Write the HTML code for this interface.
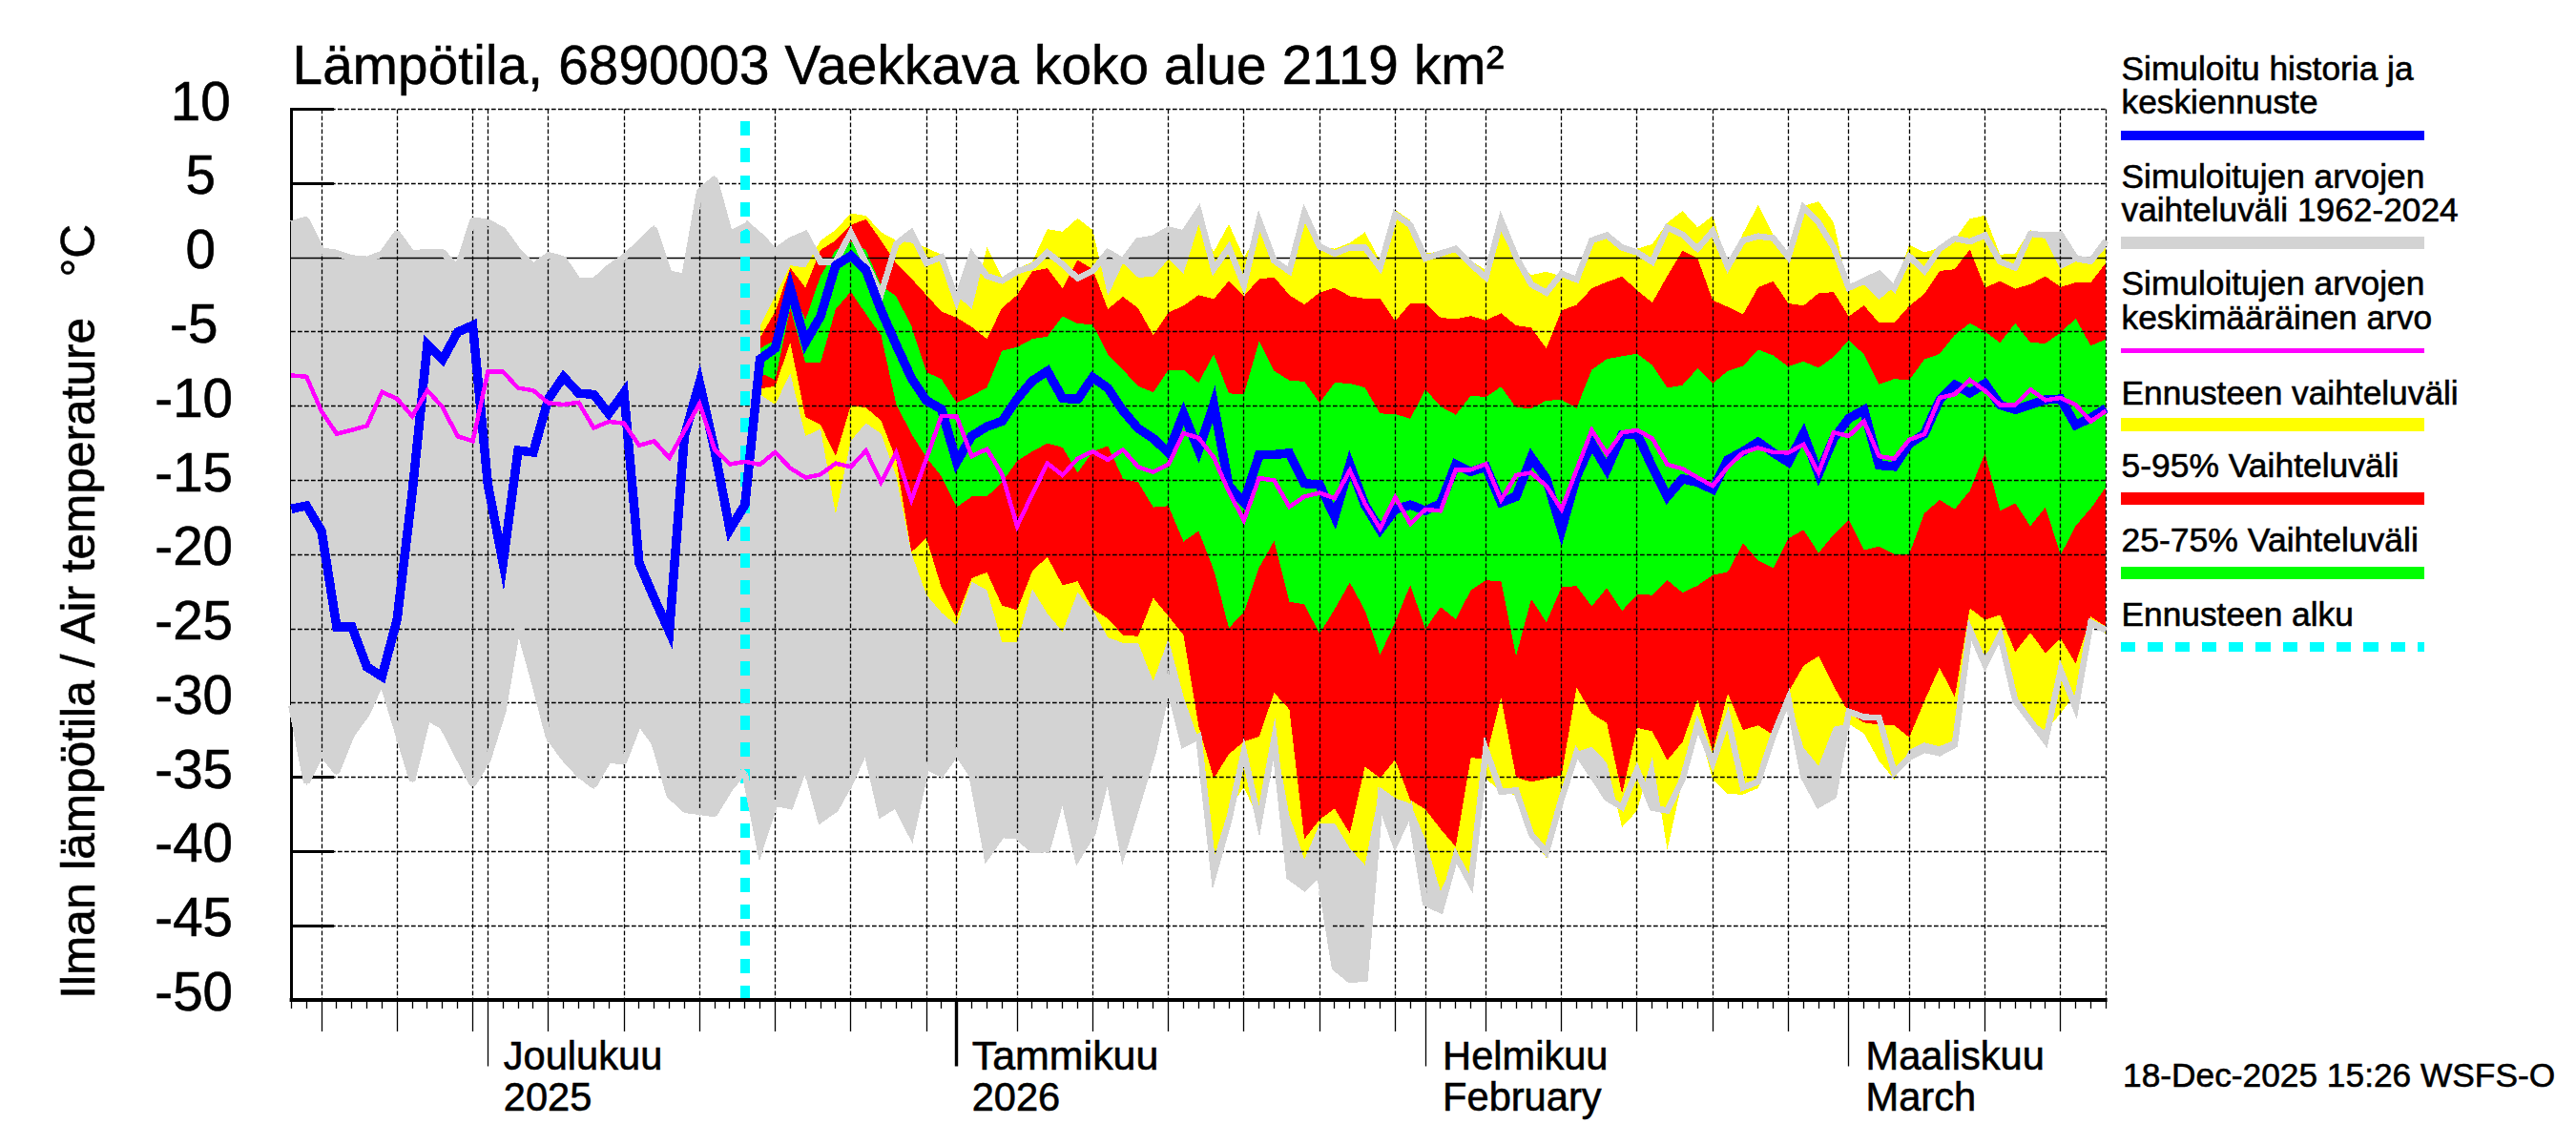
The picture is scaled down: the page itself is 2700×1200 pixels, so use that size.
<!DOCTYPE html>
<html lang="fi"><head><meta charset="utf-8"><title>Lämpötila</title>
<style>html,body{margin:0;padding:0;background:#fff;}svg{display:block;}text{font-family:"Liberation Sans",sans-serif;fill:#000;stroke:#000;stroke-width:0.6px;}</style></head><body>
<svg width="2700" height="1200" viewBox="0 0 2700 1200">
<rect width="2700" height="1200" fill="#fff"/>
<g shape-rendering="crispEdges" stroke="#000" fill="none">
<line x1="305.5" y1="112.8" x2="305.5" y2="1049.9" stroke-width="3.8"/>
<line x1="304" y1="114.6" x2="350" y2="114.6" stroke-width="3.4"/>
<line x1="304" y1="192.4" x2="350" y2="192.4" stroke-width="3.4"/>
<line x1="304" y1="348.0" x2="350" y2="348.0" stroke-width="3.4"/>
<line x1="304" y1="425.8" x2="350" y2="425.8" stroke-width="3.4"/>
<line x1="304" y1="503.5" x2="350" y2="503.5" stroke-width="3.4"/>
<line x1="304" y1="581.3" x2="350" y2="581.3" stroke-width="3.4"/>
<line x1="304" y1="659.1" x2="350" y2="659.1" stroke-width="3.4"/>
<line x1="304" y1="736.9" x2="350" y2="736.9" stroke-width="3.4"/>
<line x1="304" y1="814.7" x2="350" y2="814.7" stroke-width="3.4"/>
<line x1="304" y1="892.4" x2="350" y2="892.4" stroke-width="3.4"/>
<line x1="304" y1="970.2" x2="350" y2="970.2" stroke-width="3.4"/>
<line x1="304" y1="1048.0" x2="350" y2="1048.0" stroke-width="3.4"/>
</g>
<g shape-rendering="crispEdges">
<polygon fill="#d3d3d3" points="305.3,231.0 321.2,226.6 337.0,259.4 352.9,261.6 368.7,267.2 384.6,268.6 400.4,262.4 416.2,240.6 432.1,262.4 448.0,260.7 463.8,260.7 479.6,276.9 495.5,227.5 511.4,229.3 527.2,237.6 543.0,259.4 558.9,275.5 574.8,263.8 590.6,268.1 606.5,291.3 622.3,291.3 638.1,276.9 654.0,265.9 669.9,252.0 685.7,236.2 701.5,283.4 717.4,286.5 733.2,196.9 749.1,183.8 765.0,241.9 780.8,233.4 796.6,247.1 812.5,263.2 828.3,252.0 844.2,245.1 860.0,274.4 875.9,274.4 891.8,243.4 907.6,275.7 923.5,308.0 939.3,255.8 955.2,243.4 971.0,275.7 986.8,269.4 1002.7,315.4 1018.5,267.0 1034.4,289.3 1050.2,294.3 1066.1,284.3 1082.0,279.4 1097.8,264.6 1113.7,276.9 1129.5,291.7 1145.3,283.8 1161.2,264.1 1177.0,273.4 1192.9,252.4 1208.8,249.8 1224.6,240.5 1240.5,244.5 1256.3,221.0 1272.2,282.0 1288.0,259.4 1303.8,299.0 1319.7,231.0 1335.5,273.2 1351.4,284.3 1367.2,223.0 1383.1,258.3 1398.9,265.7 1414.8,259.5 1430.6,259.5 1446.5,280.6 1462.3,224.7 1478.2,235.9 1494.0,270.7 1509.9,265.7 1525.8,260.7 1541.6,276.9 1557.4,290.6 1573.3,230.9 1589.1,269.4 1605.0,298.0 1620.8,306.7 1636.7,286.8 1652.5,293.0 1668.4,252.0 1684.2,246.6 1700.1,259.5 1715.9,264.5 1731.8,274.4 1747.6,238.4 1763.5,245.8 1779.3,260.7 1795.2,242.1 1811.0,279.4 1826.9,252.0 1842.8,247.6 1858.6,249.6 1874.4,269.4 1890.3,217.3 1906.1,233.4 1922.0,259.5 1937.8,301.7 1953.7,294.5 1969.5,286.7 1985.4,302.3 2001.2,268.8 2017.1,284.2 2032.9,261.0 2048.8,249.9 2064.7,253.2 2080.5,246.5 2096.3,274.3 2112.2,280.5 2128.1,245.0 2143.9,246.5 2159.8,245.7 2175.6,270.5 2191.4,273.8 2207.3,252.4 2207.3,660.5 2191.4,652.4 2175.6,742.0 2159.8,702.0 2143.9,776.5 2128.1,755.5 2112.2,734.0 2096.3,666.0 2080.5,696.5 2064.7,660.0 2048.8,780.7 2032.9,789.3 2017.1,786.0 2001.2,793.5 1985.4,809.5 1969.5,752.3 1953.7,751.5 1937.8,745.8 1922.0,834.2 1906.1,843.5 1890.3,814.0 1874.4,732.4 1858.6,771.0 1842.8,819.2 1826.9,825.4 1811.0,752.8 1795.2,800.0 1779.3,759.0 1763.5,816.7 1747.6,849.6 1731.8,846.5 1715.9,806.8 1700.1,846.0 1684.2,836.5 1668.4,812.0 1652.5,788.7 1636.7,837.1 1620.8,893.0 1605.0,874.4 1589.1,828.4 1573.3,829.7 1557.4,785.5 1541.6,926.0 1525.8,896.8 1509.9,953.9 1494.0,946.5 1478.2,850.0 1462.3,884.3 1446.5,840.0 1430.6,1025.5 1414.8,1027.0 1398.9,1014.0 1383.1,915.7 1367.2,930.5 1351.4,919.0 1335.5,774.0 1319.7,861.0 1303.8,788.0 1288.0,860.0 1272.2,916.0 1256.3,772.0 1240.5,780.0 1224.6,716.4 1208.8,787.6 1192.9,840.8 1177.0,893.0 1161.2,809.1 1145.3,873.0 1129.5,899.1 1113.7,831.6 1097.8,889.7 1082.0,890.9 1066.1,876.2 1050.2,875.0 1034.4,897.3 1018.5,811.8 1002.7,788.5 986.8,811.1 971.0,803.4 955.2,874.6 939.3,843.5 923.5,853.2 907.6,784.1 891.8,819.1 875.9,848.0 860.0,859.2 844.2,801.2 828.3,845.0 812.5,841.6 796.6,890.0 780.8,811.0 765.0,830.1 749.1,856.3 733.2,854.1 717.4,852.0 701.5,836.7 685.7,782.1 669.9,760.3 654.0,801.7 638.1,799.6 622.3,827.1 606.5,814.8 590.6,797.4 574.8,775.5 558.9,714.4 543.0,657.6 527.2,749.3 511.4,799.6 495.5,825.8 479.6,795.2 463.8,764.6 448.0,755.9 432.1,821.4 416.2,769.0 400.4,716.6 384.6,751.5 368.7,773.4 352.9,812.7 337.0,793.0 321.2,823.6 305.3,742.8"/>
<polygon fill="#ffff00" points="796.6,341.5 812.5,310.4 828.3,278.1 844.2,280.6 860.0,252.0 875.9,240.9 891.8,223.5 907.6,226.0 923.5,243.4 939.3,252.0 955.2,254.5 971.0,259.5 986.8,267.0 1002.7,309.2 1018.5,324.1 1034.4,259.0 1050.2,290.6 1066.1,281.9 1082.0,274.4 1097.8,240.2 1113.7,242.8 1129.5,228.8 1145.3,241.0 1161.2,310.0 1177.0,276.0 1192.9,290.8 1208.8,290.0 1224.6,271.6 1240.5,286.5 1256.3,235.8 1272.2,263.8 1288.0,234.9 1303.8,269.9 1319.7,241.9 1335.5,271.9 1351.4,280.6 1367.2,233.4 1383.1,258.3 1398.9,260.7 1414.8,254.5 1430.6,243.4 1446.5,273.2 1462.3,219.8 1478.2,230.9 1494.0,265.7 1509.9,263.2 1525.8,257.0 1541.6,273.2 1557.4,283.1 1573.3,242.1 1589.1,274.4 1605.0,288.1 1620.8,284.8 1636.7,289.3 1652.5,293.0 1668.4,254.5 1684.2,249.6 1700.1,260.7 1715.9,260.7 1731.8,255.8 1747.6,233.4 1763.5,221.0 1779.3,238.4 1795.2,226.0 1811.0,279.4 1826.9,244.6 1842.8,214.8 1858.6,245.8 1874.4,267.0 1890.3,216.0 1906.1,211.1 1922.0,233.4 1937.8,304.2 1953.7,298.5 1969.5,314.0 1985.4,300.4 2001.2,256.4 2017.1,264.4 2032.9,260.0 2048.8,250.7 2064.7,229.1 2080.5,225.9 2096.3,266.8 2112.2,265.6 2128.1,240.8 2143.9,250.7 2159.8,282.2 2175.6,274.3 2191.4,277.2 2207.3,259.4 2207.3,664.2 2191.4,655.0 2175.6,726.7 2159.8,747.7 2143.9,766.0 2128.1,754.6 2112.2,737.5 2096.3,668.1 2080.5,686.5 2064.7,662.9 2048.8,775.5 2032.9,782.1 2017.1,778.2 2001.2,786.0 1985.4,816.8 1969.5,797.5 1953.7,768.8 1937.8,758.6 1922.0,761.8 1906.1,802.7 1890.3,783.5 1874.4,730.0 1858.6,776.0 1842.8,826.0 1826.9,832.7 1811.0,832.2 1795.2,817.3 1779.3,759.0 1763.5,817.3 1747.6,890.6 1731.8,793.0 1715.9,849.6 1700.1,867.0 1684.2,799.4 1668.4,782.5 1652.5,788.0 1636.7,838.0 1620.8,899.3 1605.0,876.4 1589.1,833.4 1573.3,830.0 1557.4,816.0 1541.6,932.8 1525.8,899.3 1509.9,934.0 1494.0,880.0 1478.2,842.1 1462.3,836.5 1446.5,824.8 1430.6,906.7 1414.8,889.0 1398.9,862.8 1383.1,863.5 1367.2,900.7 1351.4,854.4 1335.5,768.0 1319.7,860.0 1303.8,825.0 1288.0,847.6 1272.2,899.5 1256.3,775.5 1240.5,730.0 1224.6,669.3 1208.8,714.0 1192.9,673.8 1177.0,673.8 1161.2,668.1 1145.3,639.5 1129.5,620.9 1113.7,661.9 1097.8,643.2 1082.0,617.1 1066.1,673.0 1050.2,673.0 1034.4,618.4 1018.5,609.7 1002.7,655.7 986.8,642.0 971.0,623.4 955.2,579.4 939.3,499.3 923.5,454.5 907.6,443.4 891.8,462.0 875.9,539.0 860.0,449.6 844.2,457.0 828.3,391.2 812.5,424.1 796.6,413.5"/>
<polygon fill="#ff0000" points="796.6,353.9 812.5,326.6 828.3,280.6 844.2,301.7 860.0,262.0 875.9,252.0 891.8,235.9 907.6,229.7 923.5,252.0 939.3,275.7 955.2,291.8 971.0,309.2 986.8,326.6 1002.7,332.8 1018.5,342.7 1034.4,355.2 1050.2,322.9 1066.1,309.2 1082.0,284.3 1097.8,281.2 1113.7,302.2 1129.5,272.5 1145.3,282.1 1161.2,324.0 1177.0,310.9 1192.9,323.1 1208.8,351.1 1224.6,327.5 1240.5,320.5 1256.3,309.2 1272.2,313.5 1288.0,294.3 1303.8,310.0 1319.7,292.6 1335.5,290.6 1351.4,309.2 1367.2,319.1 1383.1,306.7 1398.9,301.7 1414.8,310.4 1430.6,312.9 1446.5,312.9 1462.3,336.5 1478.2,317.9 1494.0,317.9 1509.9,332.8 1525.8,334.5 1541.6,331.1 1557.4,335.8 1573.3,328.3 1589.1,341.0 1605.0,343.5 1620.8,365.1 1636.7,325.3 1652.5,319.6 1668.4,302.2 1684.2,295.5 1700.1,289.8 1715.9,304.2 1731.8,317.1 1747.6,289.3 1763.5,262.5 1779.3,270.7 1795.2,314.7 1811.0,321.6 1826.9,329.6 1842.8,301.0 1858.6,294.8 1874.4,317.9 1890.3,320.4 1906.1,307.2 1922.0,306.2 1937.8,331.6 1953.7,320.2 1969.5,338.3 1985.4,338.3 2001.2,320.6 2017.1,308.0 2032.9,284.0 2048.8,282.2 2064.7,261.4 2080.5,301.5 2096.3,294.6 2112.2,302.8 2128.1,297.8 2143.9,289.6 2159.8,300.8 2175.6,296.1 2191.4,296.1 2207.3,275.5 2207.3,656.6 2191.4,646.4 2175.6,695.4 2159.8,669.3 2143.9,684.6 2128.1,663.0 2112.2,683.3 2096.3,644.5 2080.5,649.6 2064.7,637.5 2048.8,730.6 2032.9,699.5 2017.1,734.5 2001.2,772.8 1985.4,760.2 1969.5,759.5 1953.7,757.3 1937.8,747.3 1922.0,719.0 1906.1,687.7 1890.3,697.7 1874.4,725.5 1858.6,770.3 1842.8,760.2 1826.9,765.2 1811.0,726.7 1795.2,788.1 1779.3,732.9 1763.5,777.6 1747.6,796.6 1731.8,766.5 1715.9,762.7 1700.1,832.2 1684.2,757.8 1668.4,747.8 1652.5,720.5 1636.7,812.3 1620.8,816.0 1605.0,819.4 1589.1,814.8 1573.3,731.2 1557.4,795.0 1541.6,794.3 1525.8,887.5 1509.9,868.8 1494.0,848.3 1478.2,838.4 1462.3,796.3 1446.5,815.4 1430.6,803.4 1414.8,873.6 1398.9,847.3 1383.1,859.0 1367.2,879.4 1351.4,743.5 1335.5,726.0 1319.7,772.0 1303.8,777.3 1288.0,790.3 1272.2,815.9 1256.3,761.2 1240.5,665.6 1224.6,645.7 1208.8,626.6 1192.9,666.8 1177.0,665.6 1161.2,648.2 1145.3,638.3 1129.5,609.2 1113.7,613.4 1097.8,583.6 1082.0,598.5 1066.1,639.5 1050.2,634.5 1034.4,599.8 1018.5,606.0 1002.7,647.0 986.8,615.9 971.0,564.0 955.2,578.6 939.3,481.9 923.5,440.9 907.6,427.2 891.8,424.7 875.9,478.1 860.0,445.1 844.2,437.1 828.3,358.9 812.5,404.8 796.6,407.3"/>
<polygon fill="#00ff00" points="796.6,365.1 812.5,356.4 828.3,298.0 844.2,335.3 860.0,289.3 875.9,262.0 891.8,253.3 907.6,262.0 923.5,299.3 939.3,310.4 955.2,341.5 971.0,389.9 986.8,397.4 1002.7,422.2 1018.5,414.8 1034.4,406.1 1050.2,367.6 1066.1,363.9 1082.0,355.2 1097.8,352.7 1113.7,331.6 1129.5,339.0 1145.3,340.2 1161.2,371.3 1177.0,387.5 1192.9,404.8 1208.8,411.1 1224.6,387.5 1240.5,387.5 1256.3,401.1 1272.2,371.3 1288.0,412.3 1303.8,413.5 1319.7,357.6 1335.5,388.7 1351.4,398.6 1367.2,399.9 1383.1,422.2 1398.9,401.1 1414.8,401.9 1430.6,406.1 1446.5,433.4 1462.3,433.9 1478.2,438.9 1494.0,408.1 1509.9,426.0 1525.8,434.7 1541.6,414.8 1557.4,416.0 1573.3,405.3 1589.1,427.2 1605.0,427.9 1620.8,419.8 1636.7,419.0 1652.5,427.7 1668.4,387.5 1684.2,376.3 1700.1,373.3 1715.9,370.8 1731.8,382.5 1747.6,406.6 1763.5,403.6 1779.3,386.2 1795.2,401.9 1811.0,388.7 1826.9,383.7 1842.8,366.3 1858.6,372.5 1874.4,384.2 1890.3,378.8 1906.1,385.5 1922.0,373.8 1937.8,356.4 1953.7,371.4 1969.5,402.7 1985.4,397.2 2001.2,398.2 2017.1,376.6 2032.9,371.0 2048.8,351.1 2064.7,338.7 2080.5,347.4 2096.3,359.1 2112.2,338.7 2128.1,359.1 2143.9,359.8 2159.8,348.7 2175.6,333.8 2191.4,362.3 2207.3,355.6 2207.3,510.5 2191.4,532.9 2175.6,551.0 2159.8,581.7 2143.9,531.6 2128.1,551.5 2112.2,527.2 2096.3,535.3 2080.5,475.1 2064.7,514.3 2048.8,533.6 2032.9,523.9 2017.1,537.8 2001.2,580.7 1985.4,580.7 1969.5,572.5 1953.7,576.6 1937.8,544.5 1922.0,560.1 1906.1,579.5 1890.3,555.2 1874.4,564.3 1858.6,595.4 1842.8,587.5 1826.9,569.3 1811.0,599.4 1795.2,602.7 1779.3,613.7 1763.5,621.1 1747.6,608.0 1731.8,623.6 1715.9,623.1 1700.1,640.2 1684.2,616.1 1668.4,635.5 1652.5,614.2 1636.7,615.4 1620.8,652.2 1605.0,627.8 1589.1,687.5 1573.3,609.4 1557.4,608.2 1541.6,618.6 1525.8,649.2 1509.9,636.0 1494.0,659.6 1478.2,612.9 1462.3,652.2 1446.5,686.5 1430.6,639.8 1414.8,610.4 1398.9,638.5 1383.1,664.3 1367.2,633.3 1351.4,630.8 1335.5,567.0 1319.7,594.8 1303.8,642.0 1288.0,658.1 1272.2,597.3 1256.3,556.4 1240.5,567.6 1224.6,530.3 1208.8,531.6 1192.9,505.5 1177.0,501.7 1161.2,467.5 1145.3,473.2 1129.5,495.5 1113.7,468.9 1097.8,464.5 1082.0,473.2 1066.1,483.1 1050.2,505.5 1034.4,520.4 1018.5,520.4 1002.7,531.6 986.8,499.3 971.0,479.4 955.2,454.5 939.3,423.5 923.5,351.4 907.6,329.1 891.8,305.5 875.9,324.1 860.0,380.0 844.2,380.0 828.3,323.0 812.5,398.1 796.6,390.7"/>
<g stroke="#000" stroke-width="1.3" stroke-dasharray="4.7 2.3" fill="none" shape-rendering="geometricPrecision">
<line x1="305" y1="114.5" x2="2207.6" y2="114.5"/>
<line x1="305" y1="192.5" x2="2207.6" y2="192.5"/>
<line x1="305" y1="347.5" x2="2207.6" y2="347.5"/>
<line x1="305" y1="425.5" x2="2207.6" y2="425.5"/>
<line x1="305" y1="503.5" x2="2207.6" y2="503.5"/>
<line x1="305" y1="581.5" x2="2207.6" y2="581.5"/>
<line x1="305" y1="659.5" x2="2207.6" y2="659.5"/>
<line x1="305" y1="736.5" x2="2207.6" y2="736.5"/>
<line x1="305" y1="814.5" x2="2207.6" y2="814.5"/>
<line x1="305" y1="892.5" x2="2207.6" y2="892.5"/>
<line x1="305" y1="970.5" x2="2207.6" y2="970.5"/>
<line x1="337.5" y1="114.6" x2="337.5" y2="1048.0"/>
<line x1="416.5" y1="114.6" x2="416.5" y2="1048.0"/>
<line x1="495.5" y1="114.6" x2="495.5" y2="1048.0"/>
<line x1="511.5" y1="114.6" x2="511.5" y2="1048.0"/>
<line x1="574.5" y1="114.6" x2="574.5" y2="1048.0"/>
<line x1="654.5" y1="114.6" x2="654.5" y2="1048.0"/>
<line x1="733.5" y1="114.6" x2="733.5" y2="1048.0"/>
<line x1="812.5" y1="114.6" x2="812.5" y2="1048.0"/>
<line x1="891.5" y1="114.6" x2="891.5" y2="1048.0"/>
<line x1="971.5" y1="114.6" x2="971.5" y2="1048.0"/>
<line x1="1002.5" y1="114.6" x2="1002.5" y2="1048.0"/>
<line x1="1066.5" y1="114.6" x2="1066.5" y2="1048.0"/>
<line x1="1145.5" y1="114.6" x2="1145.5" y2="1048.0"/>
<line x1="1224.5" y1="114.6" x2="1224.5" y2="1048.0"/>
<line x1="1303.5" y1="114.6" x2="1303.5" y2="1048.0"/>
<line x1="1383.5" y1="114.6" x2="1383.5" y2="1048.0"/>
<line x1="1462.5" y1="114.6" x2="1462.5" y2="1048.0"/>
<line x1="1494.5" y1="114.6" x2="1494.5" y2="1048.0"/>
<line x1="1557.5" y1="114.6" x2="1557.5" y2="1048.0"/>
<line x1="1636.5" y1="114.6" x2="1636.5" y2="1048.0"/>
<line x1="1715.5" y1="114.6" x2="1715.5" y2="1048.0"/>
<line x1="1795.5" y1="114.6" x2="1795.5" y2="1048.0"/>
<line x1="1874.5" y1="114.6" x2="1874.5" y2="1048.0"/>
<line x1="1937.5" y1="114.6" x2="1937.5" y2="1048.0"/>
<line x1="2001.5" y1="114.6" x2="2001.5" y2="1048.0"/>
<line x1="2080.5" y1="114.6" x2="2080.5" y2="1048.0"/>
<line x1="2159.5" y1="114.6" x2="2159.5" y2="1048.0"/>
<line x1="2207.5" y1="114.6" x2="2207.5" y2="1048.0"/>
</g>
<line x1="305" y1="270.5" x2="2207.6" y2="270.5" stroke="#000" stroke-width="1.4" shape-rendering="geometricPrecision"/>
<line x1="781" y1="127" x2="781" y2="1048.0" stroke="#00ffff" stroke-width="10.2" stroke-dasharray="15 13.31"/>
<g fill="none" stroke="#d3d3d3" stroke-width="6.5" stroke-linejoin="miter" stroke-miterlimit="10">
<polyline stroke-linejoin="bevel" points="305.3,234.6 321.2,230.2 337.0,263.0 352.9,265.2 368.7,270.8 384.6,272.2 400.4,266.0 416.2,244.2 432.1,266.0 448.0,264.3 463.8,264.3 479.6,280.5 495.5,231.1 511.4,232.9 527.2,241.2 543.0,263.0 558.9,279.1 574.8,267.4 590.6,271.7 606.5,294.9 622.3,294.9 638.1,280.5 654.0,269.5 669.9,255.6 685.7,239.8 701.5,287.0 717.4,290.1 733.2,200.5 749.1,187.4 765.0,245.5 780.8,237.0"/>
<polyline stroke-linejoin="bevel" points="305.3,739.2 321.2,820.0 337.0,789.4 352.9,809.1 368.7,769.8 384.6,747.9 400.4,713.0 416.2,765.4 432.1,817.8 448.0,752.3 463.8,761.0 479.6,791.6 495.5,822.2 511.4,796.0 527.2,745.7 543.0,654.0 558.9,710.8 574.8,771.9 590.6,793.8 606.5,811.2 622.3,823.5 638.1,796.0 654.0,798.1 669.9,756.7 685.7,778.5 701.5,833.1 717.4,848.4 733.2,850.5 749.1,852.7 765.0,826.5 780.8,807.4"/>
<polyline points="780.8,233.4 796.6,247.1 812.5,263.2 828.3,252.0 844.2,245.1 860.0,274.4 875.9,274.4 891.8,243.4 907.6,275.7 923.5,308.0 939.3,255.8 955.2,243.4 971.0,275.7 986.8,269.4 1002.7,315.4 1018.5,267.0 1034.4,289.3 1050.2,294.3 1066.1,284.3 1082.0,279.4 1097.8,264.6 1113.7,276.9 1129.5,291.7 1145.3,283.8 1161.2,264.1 1177.0,273.4 1192.9,252.4 1208.8,249.8 1224.6,240.5 1240.5,244.5 1256.3,221.0 1272.2,282.0 1288.0,259.4 1303.8,299.0 1319.7,231.0 1335.5,273.2 1351.4,284.3 1367.2,223.0 1383.1,258.3 1398.9,265.7 1414.8,259.5 1430.6,259.5 1446.5,280.6 1462.3,224.7 1478.2,235.9 1494.0,270.7 1509.9,265.7 1525.8,260.7 1541.6,276.9 1557.4,290.6 1573.3,230.9 1589.1,269.4 1605.0,298.0 1620.8,306.7 1636.7,286.8 1652.5,293.0 1668.4,252.0 1684.2,246.6 1700.1,259.5 1715.9,264.5 1731.8,274.4 1747.6,238.4 1763.5,245.8 1779.3,260.7 1795.2,242.1 1811.0,279.4 1826.9,252.0 1842.8,247.6 1858.6,249.6 1874.4,269.4 1890.3,217.3 1906.1,233.4 1922.0,259.5 1937.8,301.7 1953.7,294.5 1969.5,286.7 1985.4,302.3 2001.2,268.8 2017.1,284.2 2032.9,261.0 2048.8,249.9 2064.7,253.2 2080.5,246.5 2096.3,274.3 2112.2,280.5 2128.1,245.0 2143.9,246.5 2159.8,245.7 2175.6,270.5 2191.4,273.8 2207.3,252.4"/>
<polyline points="780.8,811.0 796.6,890.0 812.5,841.6 828.3,845.0 844.2,801.2 860.0,859.2 875.9,848.0 891.8,819.1 907.6,784.1 923.5,853.2 939.3,843.5 955.2,874.6 971.0,803.4 986.8,811.1 1002.7,788.5 1018.5,811.8 1034.4,897.3 1050.2,875.0 1066.1,876.2 1082.0,890.9 1097.8,889.7 1113.7,831.6 1129.5,899.1 1145.3,873.0 1161.2,809.1 1177.0,893.0 1192.9,840.8 1208.8,787.6 1224.6,716.4 1240.5,780.0 1256.3,772.0 1272.2,916.0 1288.0,860.0 1303.8,788.0 1319.7,861.0 1335.5,774.0 1351.4,919.0 1367.2,930.5 1383.1,915.7 1398.9,1014.0 1414.8,1027.0 1430.6,1025.5 1446.5,840.0 1462.3,884.3 1478.2,850.0 1494.0,946.5 1509.9,953.9 1525.8,896.8 1541.6,926.0 1557.4,785.5 1573.3,829.7 1589.1,828.4 1605.0,874.4 1620.8,893.0 1636.7,837.1 1652.5,788.7 1668.4,812.0 1684.2,836.5 1700.1,846.0 1715.9,806.8 1731.8,846.5 1747.6,849.6 1763.5,816.7 1779.3,759.0 1795.2,800.0 1811.0,752.8 1826.9,825.4 1842.8,819.2 1858.6,771.0 1874.4,732.4 1890.3,814.0 1906.1,843.5 1922.0,834.2 1937.8,745.8 1953.7,751.5 1969.5,752.3 1985.4,809.5 2001.2,793.5 2017.1,786.0 2032.9,789.3 2048.8,780.7 2064.7,660.0 2080.5,696.5 2096.3,666.0 2112.2,734.0 2128.1,755.5 2143.9,776.5 2159.8,702.0 2175.6,742.0 2191.4,652.4 2207.3,660.5"/>
</g>
<polyline fill="none" stroke="#0000ff" stroke-width="9.5" stroke-linejoin="miter" stroke-miterlimit="10" points="305.3,533.4 321.2,530.0 337.0,556.5 352.9,656.8 368.7,656.8 384.6,699.0 400.4,709.0 416.2,649.0 432.1,516.0 448.0,361.0 463.8,377.0 479.6,348.0 495.5,341.0 511.4,508.0 527.2,590.0 543.0,472.0 558.9,474.0 574.8,418.0 590.6,395.0 606.5,412.0 622.3,413.5 638.1,433.5 654.0,411.5 669.9,590.0 685.7,627.0 701.5,662.0 717.4,457.0 733.2,401.0 749.1,472.0 765.0,555.0 780.8,529.0 796.6,376.3 812.5,365.1 828.3,301.7 844.2,358.9 860.0,331.6 875.9,278.1 891.8,268.2 907.6,283.1 923.5,325.3 939.3,361.4 955.2,396.1 971.0,419.8 986.8,428.8 1002.7,484.3 1018.5,457.0 1034.4,447.1 1050.2,441.5 1066.1,417.9 1082.0,399.2 1097.8,389.0 1113.7,417.3 1129.5,418.5 1145.3,395.5 1161.2,406.7 1177.0,430.3 1192.9,449.0 1208.8,459.5 1224.6,474.4 1240.5,433.4 1256.3,471.9 1272.2,423.5 1288.0,509.2 1303.8,526.6 1319.7,476.9 1335.5,476.4 1351.4,474.9 1367.2,506.7 1383.1,508.0 1398.9,541.5 1414.8,486.8 1430.6,529.1 1446.5,555.2 1462.3,534.0 1478.2,529.1 1494.0,535.3 1509.9,527.8 1525.8,486.8 1541.6,494.3 1557.4,489.3 1573.3,526.6 1589.1,520.4 1605.0,479.4 1620.8,501.7 1636.7,555.2 1652.5,499.3 1668.4,464.5 1684.2,491.8 1700.1,455.8 1715.9,454.5 1731.8,489.3 1747.6,520.4 1763.5,501.7 1779.3,505.5 1795.2,512.9 1811.0,481.9 1826.9,473.2 1842.8,463.2 1858.6,474.4 1874.4,484.3 1890.3,454.5 1906.1,496.8 1922.0,459.5 1937.8,438.4 1953.7,429.8 1969.5,487.5 1985.4,488.8 2001.2,465.2 2017.1,454.5 2032.9,419.4 2048.8,403.2 2064.7,411.9 2080.5,402.0 2096.3,424.3 2112.2,429.3 2128.1,424.3 2143.9,418.9 2159.8,418.1 2175.6,445.4 2191.4,438.0 2207.3,428.0"/>
<polyline fill="none" stroke="#ff00ff" stroke-width="4.5" stroke-linejoin="miter" stroke-miterlimit="10" points="305.3,393.4 321.2,394.8 337.0,431.0 352.9,454.6 368.7,450.7 384.6,446.3 400.4,410.9 416.2,417.9 432.1,436.2 448.0,409.2 463.8,426.6 479.6,457.2 495.5,462.4 511.4,389.5 527.2,389.5 543.0,406.6 558.9,409.2 574.8,422.3 590.6,424.0 606.5,421.8 622.3,448.5 638.1,441.9 654.0,443.7 669.9,466.8 685.7,462.4 701.5,479.9 717.4,451.5 733.2,423.1 749.1,471.2 765.0,486.5 780.8,483.9 796.6,486.8 812.5,473.9 828.3,490.6 844.2,500.5 860.0,497.3 875.9,485.6 891.8,489.3 907.6,472.4 923.5,505.5 939.3,474.4 955.2,524.1 971.0,480.6 986.8,435.9 1002.7,436.6 1018.5,478.1 1034.4,470.7 1050.2,496.8 1066.1,551.4 1082.0,517.9 1097.8,485.6 1113.7,498.0 1129.5,480.6 1145.3,473.2 1161.2,481.9 1177.0,471.4 1192.9,489.3 1208.8,494.8 1224.6,486.8 1240.5,454.0 1256.3,459.0 1272.2,479.4 1288.0,515.4 1303.8,545.2 1319.7,501.0 1335.5,503.5 1351.4,531.1 1367.2,520.4 1383.1,516.6 1398.9,522.1 1414.8,493.0 1430.6,527.8 1446.5,553.9 1462.3,521.1 1478.2,548.9 1494.0,534.0 1509.9,535.3 1525.8,492.3 1541.6,492.3 1557.4,486.3 1573.3,524.1 1589.1,498.0 1605.0,495.5 1620.8,509.2 1636.7,534.0 1652.5,492.3 1668.4,450.8 1684.2,475.7 1700.1,453.3 1715.9,450.8 1731.8,459.5 1747.6,486.8 1763.5,491.3 1779.3,500.5 1795.2,509.2 1811.0,489.3 1826.9,474.4 1842.8,469.4 1858.6,473.9 1874.4,474.4 1890.3,465.7 1906.1,495.5 1922.0,453.3 1937.8,457.0 1953.7,441.5 1969.5,478.2 1985.4,480.7 2001.2,460.8 2017.1,455.0 2032.9,416.9 2048.8,413.2 2064.7,398.3 2080.5,409.4 2096.3,424.3 2112.2,424.3 2128.1,408.2 2143.9,419.4 2159.8,416.9 2175.6,424.3 2191.4,441.7 2207.3,430.5"/>
<g stroke="#000" fill="none" shape-rendering="geometricPrecision">
<line x1="303.6" y1="1048.0" x2="2208.6" y2="1048.0" stroke-width="3.8"/>
<line x1="305.5" y1="1048.0" x2="305.5" y2="1057" stroke-width="1.3"/>
<line x1="321.5" y1="1048.0" x2="321.5" y2="1057" stroke-width="1.3"/>
<line x1="337.5" y1="1048.0" x2="337.5" y2="1081" stroke-width="1.3"/>
<line x1="352.5" y1="1048.0" x2="352.5" y2="1057" stroke-width="1.3"/>
<line x1="368.5" y1="1048.0" x2="368.5" y2="1057" stroke-width="1.3"/>
<line x1="384.5" y1="1048.0" x2="384.5" y2="1057" stroke-width="1.3"/>
<line x1="400.5" y1="1048.0" x2="400.5" y2="1057" stroke-width="1.3"/>
<line x1="416.5" y1="1048.0" x2="416.5" y2="1081" stroke-width="1.3"/>
<line x1="432.5" y1="1048.0" x2="432.5" y2="1057" stroke-width="1.3"/>
<line x1="447.5" y1="1048.0" x2="447.5" y2="1057" stroke-width="1.3"/>
<line x1="463.5" y1="1048.0" x2="463.5" y2="1057" stroke-width="1.3"/>
<line x1="479.5" y1="1048.0" x2="479.5" y2="1057" stroke-width="1.3"/>
<line x1="495.5" y1="1048.0" x2="495.5" y2="1081" stroke-width="1.3"/>
<line x1="511.5" y1="1048.0" x2="511.5" y2="1117.5" stroke-width="1.3"/>
<line x1="527.5" y1="1048.0" x2="527.5" y2="1057" stroke-width="1.3"/>
<line x1="543.5" y1="1048.0" x2="543.5" y2="1057" stroke-width="1.3"/>
<line x1="558.5" y1="1048.0" x2="558.5" y2="1057" stroke-width="1.3"/>
<line x1="574.5" y1="1048.0" x2="574.5" y2="1081" stroke-width="1.3"/>
<line x1="590.5" y1="1048.0" x2="590.5" y2="1057" stroke-width="1.3"/>
<line x1="606.5" y1="1048.0" x2="606.5" y2="1057" stroke-width="1.3"/>
<line x1="622.5" y1="1048.0" x2="622.5" y2="1057" stroke-width="1.3"/>
<line x1="638.5" y1="1048.0" x2="638.5" y2="1057" stroke-width="1.3"/>
<line x1="654.5" y1="1048.0" x2="654.5" y2="1081" stroke-width="1.3"/>
<line x1="669.5" y1="1048.0" x2="669.5" y2="1057" stroke-width="1.3"/>
<line x1="685.5" y1="1048.0" x2="685.5" y2="1057" stroke-width="1.3"/>
<line x1="701.5" y1="1048.0" x2="701.5" y2="1057" stroke-width="1.3"/>
<line x1="717.5" y1="1048.0" x2="717.5" y2="1057" stroke-width="1.3"/>
<line x1="733.5" y1="1048.0" x2="733.5" y2="1081" stroke-width="1.3"/>
<line x1="749.5" y1="1048.0" x2="749.5" y2="1057" stroke-width="1.3"/>
<line x1="764.5" y1="1048.0" x2="764.5" y2="1057" stroke-width="1.3"/>
<line x1="780.5" y1="1048.0" x2="780.5" y2="1057" stroke-width="1.3"/>
<line x1="796.5" y1="1048.0" x2="796.5" y2="1057" stroke-width="1.3"/>
<line x1="812.5" y1="1048.0" x2="812.5" y2="1081" stroke-width="1.3"/>
<line x1="828.5" y1="1048.0" x2="828.5" y2="1057" stroke-width="1.3"/>
<line x1="844.5" y1="1048.0" x2="844.5" y2="1057" stroke-width="1.3"/>
<line x1="860.5" y1="1048.0" x2="860.5" y2="1057" stroke-width="1.3"/>
<line x1="875.5" y1="1048.0" x2="875.5" y2="1057" stroke-width="1.3"/>
<line x1="891.5" y1="1048.0" x2="891.5" y2="1081" stroke-width="1.3"/>
<line x1="907.5" y1="1048.0" x2="907.5" y2="1057" stroke-width="1.3"/>
<line x1="923.5" y1="1048.0" x2="923.5" y2="1057" stroke-width="1.3"/>
<line x1="939.5" y1="1048.0" x2="939.5" y2="1057" stroke-width="1.3"/>
<line x1="955.5" y1="1048.0" x2="955.5" y2="1057" stroke-width="1.3"/>
<line x1="971.5" y1="1048.0" x2="971.5" y2="1081" stroke-width="1.3"/>
<line x1="986.5" y1="1048.0" x2="986.5" y2="1057" stroke-width="1.3"/>
<line x1="1002.5" y1="1048.0" x2="1002.5" y2="1117.5" stroke-width="3.4"/>
<line x1="1018.5" y1="1048.0" x2="1018.5" y2="1057" stroke-width="1.3"/>
<line x1="1034.5" y1="1048.0" x2="1034.5" y2="1057" stroke-width="1.3"/>
<line x1="1050.5" y1="1048.0" x2="1050.5" y2="1057" stroke-width="1.3"/>
<line x1="1066.5" y1="1048.0" x2="1066.5" y2="1081" stroke-width="1.3"/>
<line x1="1081.5" y1="1048.0" x2="1081.5" y2="1057" stroke-width="1.3"/>
<line x1="1097.5" y1="1048.0" x2="1097.5" y2="1057" stroke-width="1.3"/>
<line x1="1113.5" y1="1048.0" x2="1113.5" y2="1057" stroke-width="1.3"/>
<line x1="1129.5" y1="1048.0" x2="1129.5" y2="1057" stroke-width="1.3"/>
<line x1="1145.5" y1="1048.0" x2="1145.5" y2="1081" stroke-width="1.3"/>
<line x1="1161.5" y1="1048.0" x2="1161.5" y2="1057" stroke-width="1.3"/>
<line x1="1177.5" y1="1048.0" x2="1177.5" y2="1057" stroke-width="1.3"/>
<line x1="1192.5" y1="1048.0" x2="1192.5" y2="1057" stroke-width="1.3"/>
<line x1="1208.5" y1="1048.0" x2="1208.5" y2="1057" stroke-width="1.3"/>
<line x1="1224.5" y1="1048.0" x2="1224.5" y2="1081" stroke-width="1.3"/>
<line x1="1240.5" y1="1048.0" x2="1240.5" y2="1057" stroke-width="1.3"/>
<line x1="1256.5" y1="1048.0" x2="1256.5" y2="1057" stroke-width="1.3"/>
<line x1="1272.5" y1="1048.0" x2="1272.5" y2="1057" stroke-width="1.3"/>
<line x1="1288.5" y1="1048.0" x2="1288.5" y2="1057" stroke-width="1.3"/>
<line x1="1303.5" y1="1048.0" x2="1303.5" y2="1081" stroke-width="1.3"/>
<line x1="1319.5" y1="1048.0" x2="1319.5" y2="1057" stroke-width="1.3"/>
<line x1="1335.5" y1="1048.0" x2="1335.5" y2="1057" stroke-width="1.3"/>
<line x1="1351.5" y1="1048.0" x2="1351.5" y2="1057" stroke-width="1.3"/>
<line x1="1367.5" y1="1048.0" x2="1367.5" y2="1057" stroke-width="1.3"/>
<line x1="1383.5" y1="1048.0" x2="1383.5" y2="1081" stroke-width="1.3"/>
<line x1="1398.5" y1="1048.0" x2="1398.5" y2="1057" stroke-width="1.3"/>
<line x1="1414.5" y1="1048.0" x2="1414.5" y2="1057" stroke-width="1.3"/>
<line x1="1430.5" y1="1048.0" x2="1430.5" y2="1057" stroke-width="1.3"/>
<line x1="1446.5" y1="1048.0" x2="1446.5" y2="1057" stroke-width="1.3"/>
<line x1="1462.5" y1="1048.0" x2="1462.5" y2="1081" stroke-width="1.3"/>
<line x1="1478.5" y1="1048.0" x2="1478.5" y2="1057" stroke-width="1.3"/>
<line x1="1494.5" y1="1048.0" x2="1494.5" y2="1117.5" stroke-width="1.3"/>
<line x1="1509.5" y1="1048.0" x2="1509.5" y2="1057" stroke-width="1.3"/>
<line x1="1525.5" y1="1048.0" x2="1525.5" y2="1057" stroke-width="1.3"/>
<line x1="1541.5" y1="1048.0" x2="1541.5" y2="1057" stroke-width="1.3"/>
<line x1="1557.5" y1="1048.0" x2="1557.5" y2="1081" stroke-width="1.3"/>
<line x1="1573.5" y1="1048.0" x2="1573.5" y2="1057" stroke-width="1.3"/>
<line x1="1589.5" y1="1048.0" x2="1589.5" y2="1057" stroke-width="1.3"/>
<line x1="1605.5" y1="1048.0" x2="1605.5" y2="1057" stroke-width="1.3"/>
<line x1="1620.5" y1="1048.0" x2="1620.5" y2="1057" stroke-width="1.3"/>
<line x1="1636.5" y1="1048.0" x2="1636.5" y2="1081" stroke-width="1.3"/>
<line x1="1652.5" y1="1048.0" x2="1652.5" y2="1057" stroke-width="1.3"/>
<line x1="1668.5" y1="1048.0" x2="1668.5" y2="1057" stroke-width="1.3"/>
<line x1="1684.5" y1="1048.0" x2="1684.5" y2="1057" stroke-width="1.3"/>
<line x1="1700.5" y1="1048.0" x2="1700.5" y2="1057" stroke-width="1.3"/>
<line x1="1715.5" y1="1048.0" x2="1715.5" y2="1081" stroke-width="1.3"/>
<line x1="1731.5" y1="1048.0" x2="1731.5" y2="1057" stroke-width="1.3"/>
<line x1="1747.5" y1="1048.0" x2="1747.5" y2="1057" stroke-width="1.3"/>
<line x1="1763.5" y1="1048.0" x2="1763.5" y2="1057" stroke-width="1.3"/>
<line x1="1779.5" y1="1048.0" x2="1779.5" y2="1057" stroke-width="1.3"/>
<line x1="1795.5" y1="1048.0" x2="1795.5" y2="1081" stroke-width="1.3"/>
<line x1="1811.5" y1="1048.0" x2="1811.5" y2="1057" stroke-width="1.3"/>
<line x1="1826.5" y1="1048.0" x2="1826.5" y2="1057" stroke-width="1.3"/>
<line x1="1842.5" y1="1048.0" x2="1842.5" y2="1057" stroke-width="1.3"/>
<line x1="1858.5" y1="1048.0" x2="1858.5" y2="1057" stroke-width="1.3"/>
<line x1="1874.5" y1="1048.0" x2="1874.5" y2="1081" stroke-width="1.3"/>
<line x1="1890.5" y1="1048.0" x2="1890.5" y2="1057" stroke-width="1.3"/>
<line x1="1906.5" y1="1048.0" x2="1906.5" y2="1057" stroke-width="1.3"/>
<line x1="1922.5" y1="1048.0" x2="1922.5" y2="1057" stroke-width="1.3"/>
<line x1="1937.5" y1="1048.0" x2="1937.5" y2="1117.5" stroke-width="1.3"/>
<line x1="1953.5" y1="1048.0" x2="1953.5" y2="1057" stroke-width="1.3"/>
<line x1="1969.5" y1="1048.0" x2="1969.5" y2="1057" stroke-width="1.3"/>
<line x1="1985.5" y1="1048.0" x2="1985.5" y2="1057" stroke-width="1.3"/>
<line x1="2001.5" y1="1048.0" x2="2001.5" y2="1081" stroke-width="1.3"/>
<line x1="2017.5" y1="1048.0" x2="2017.5" y2="1057" stroke-width="1.3"/>
<line x1="2032.5" y1="1048.0" x2="2032.5" y2="1057" stroke-width="1.3"/>
<line x1="2048.5" y1="1048.0" x2="2048.5" y2="1057" stroke-width="1.3"/>
<line x1="2064.5" y1="1048.0" x2="2064.5" y2="1057" stroke-width="1.3"/>
<line x1="2080.5" y1="1048.0" x2="2080.5" y2="1081" stroke-width="1.3"/>
<line x1="2096.5" y1="1048.0" x2="2096.5" y2="1057" stroke-width="1.3"/>
<line x1="2112.5" y1="1048.0" x2="2112.5" y2="1057" stroke-width="1.3"/>
<line x1="2128.5" y1="1048.0" x2="2128.5" y2="1057" stroke-width="1.3"/>
<line x1="2143.5" y1="1048.0" x2="2143.5" y2="1057" stroke-width="1.3"/>
<line x1="2159.5" y1="1048.0" x2="2159.5" y2="1081" stroke-width="1.3"/>
<line x1="2175.5" y1="1048.0" x2="2175.5" y2="1057" stroke-width="1.3"/>
<line x1="2191.5" y1="1048.0" x2="2191.5" y2="1057" stroke-width="1.3"/>
<line x1="2207.5" y1="1048.0" x2="2207.5" y2="1057" stroke-width="1.3"/>
</g>
<line x1="2223" y1="141.9" x2="2541" y2="141.9" stroke="#0000ff" stroke-width="9.8"/>
<line x1="2223" y1="254.3" x2="2541" y2="254.3" stroke="#d3d3d3" stroke-width="12.8"/>
<line x1="2223" y1="367.6" x2="2541" y2="367.6" stroke="#ff00ff" stroke-width="4.6"/>
<line x1="2223" y1="444.7" x2="2541" y2="444.7" stroke="#ffff00" stroke-width="13.6"/>
<line x1="2223" y1="522.5" x2="2541" y2="522.5" stroke="#ff0000" stroke-width="12.8"/>
<line x1="2223" y1="600.4" x2="2541" y2="600.4" stroke="#00ff00" stroke-width="12.8"/>
<line x1="2223" y1="677.8" x2="2541" y2="677.8" stroke="#00ffff" stroke-width="10.4" stroke-dasharray="15.3 12.97"/>
</g>
<text x="306.5" y="87.5" font-size="56.6" text-anchor="start" textLength="1270" lengthAdjust="spacing">Lämpötila, 6890003 Vaekkava koko alue 2119 km²</text>
<text x="210.2" y="125.6" font-size="56.6" text-anchor="middle">10</text>
<text x="210.2" y="203.4" font-size="56.6" text-anchor="middle">5</text>
<text x="210.2" y="281.2" font-size="56.6" text-anchor="middle">0</text>
<text x="203.2" y="359.0" font-size="56.6" text-anchor="middle">-5</text>
<text x="203.2" y="436.8" font-size="56.6" text-anchor="middle">-10</text>
<text x="203.2" y="514.5" font-size="56.6" text-anchor="middle">-15</text>
<text x="203.2" y="592.3" font-size="56.6" text-anchor="middle">-20</text>
<text x="203.2" y="670.1" font-size="56.6" text-anchor="middle">-25</text>
<text x="203.2" y="747.9" font-size="56.6" text-anchor="middle">-30</text>
<text x="203.2" y="825.7" font-size="56.6" text-anchor="middle">-35</text>
<text x="203.2" y="903.4" font-size="56.6" text-anchor="middle">-40</text>
<text x="203.2" y="981.2" font-size="56.6" text-anchor="middle">-45</text>
<text x="203.2" y="1059.0" font-size="56.6" text-anchor="middle">-50</text>
<text font-size="49.6" transform="translate(99.4,1046.8) rotate(-90)">Ilman lämpötila / Air temperature</text>
<text font-size="49.6" transform="translate(99.4,290.5) rotate(-90)">°C</text>
<text x="527.8" y="1121.3" font-size="41.6" text-anchor="start">Joulukuu</text>
<text x="527.8" y="1164.2" font-size="41.6" text-anchor="start">2025</text>
<text x="1018.7" y="1121.3" font-size="41.6" text-anchor="start" textLength="195.7" lengthAdjust="spacingAndGlyphs">Tammikuu</text>
<text x="1018.7" y="1164.2" font-size="41.6" text-anchor="start">2026</text>
<text x="1512.1" y="1121.3" font-size="41.6" text-anchor="start">Helmikuu</text>
<text x="1512.1" y="1164.2" font-size="41.6" text-anchor="start">February</text>
<text x="1955.6" y="1121.3" font-size="41.6" text-anchor="start">Maaliskuu</text>
<text x="1955.6" y="1164.2" font-size="41.6" text-anchor="start">March</text>
<text x="2223.5" y="84.4" font-size="35.3" text-anchor="start">Simuloitu historia ja</text>
<text x="2223.5" y="118.6" font-size="35.3" text-anchor="start">keskiennuste</text>
<text x="2223.5" y="196.6" font-size="35.3" text-anchor="start">Simuloitujen arvojen</text>
<text x="2223.5" y="231.7" font-size="35.3" text-anchor="start">vaihteluväli 1962-2024</text>
<text x="2223.5" y="309" font-size="35.3" text-anchor="start">Simuloitujen arvojen</text>
<text x="2223.5" y="344.8" font-size="35.3" text-anchor="start">keskimääräinen arvo</text>
<text x="2223.5" y="423.5" font-size="35.3" text-anchor="start">Ennusteen vaihteluväli</text>
<text x="2223.5" y="499.9" font-size="35.3" text-anchor="start" textLength="291" lengthAdjust="spacingAndGlyphs">5-95% Vaihteluväli</text>
<text x="2223.5" y="578.4" font-size="35.3" text-anchor="start" textLength="311.4" lengthAdjust="spacingAndGlyphs">25-75% Vaihteluväli</text>
<text x="2223.5" y="655.8" font-size="35.3" text-anchor="start">Ennusteen alku</text>
<text x="2225" y="1139.2" font-size="35.3" text-anchor="start">18-Dec-2025 15:26 WSFS-O</text>
</svg></body></html>
